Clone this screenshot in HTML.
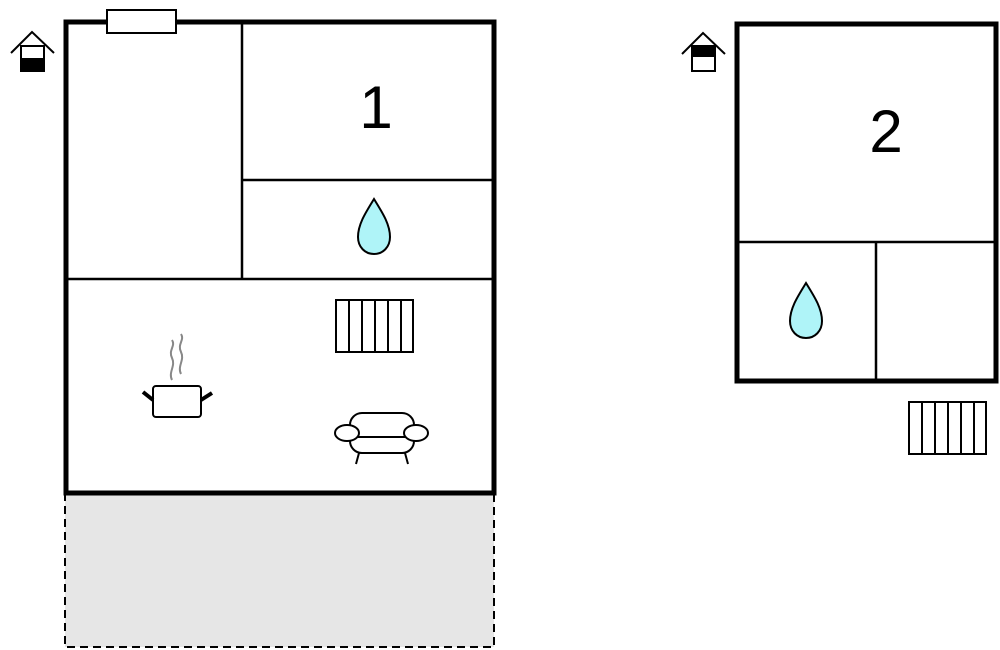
<!DOCTYPE html>
<html><head><style>html,body{margin:0;padding:0;background:#fff;}svg{display:block}</style></head>
<body>
<svg width="1000" height="650" viewBox="0 0 1000 650" xmlns="http://www.w3.org/2000/svg">
<rect x="65" y="494" width="429" height="153" fill="#e6e6e6" stroke="#000" stroke-width="2" stroke-dasharray="8,5"/>
<!-- left plan -->
<rect x="66" y="22" width="428" height="471" fill="#fff" stroke="#000" stroke-width="5"/>
<line x1="242" y1="22" x2="242" y2="279" stroke="#000" stroke-width="2.5"/>
<line x1="242" y1="180" x2="494" y2="180" stroke="#000" stroke-width="2.5"/>
<line x1="66" y1="279" x2="494" y2="279" stroke="#000" stroke-width="2.5"/>
<rect x="107" y="10" width="69" height="23" fill="#fff" stroke="#000" stroke-width="2"/>
<!-- house icon 1 -->
<polyline points="11,53 32,32 54,53" fill="none" stroke="#000" stroke-width="2"/>
<rect x="21" y="46" width="23" height="25" fill="#fff" stroke="#000" stroke-width="2"/>
<rect x="21" y="58" width="23" height="13" fill="#000"/>
<text x="376" y="128" font-family="Liberation Sans, sans-serif" font-size="60" text-anchor="middle">1</text>
<path d="M374,199 C366,212 358,224 358,237 C358,247 365,254 374,254 C383,254 390,247 390,237 C390,224 382,212 374,199 Z" fill="#aff4f8" stroke="#000" stroke-width="2"/>
<!-- radiator 1 -->
<g stroke="#000" stroke-width="2" fill="#fff">
<rect x="336" y="300" width="77" height="52"/>
<line x1="349" y1="300" x2="349" y2="352"/><line x1="362" y1="300" x2="362" y2="352"/><line x1="375" y1="300" x2="375" y2="352"/><line x1="388" y1="300" x2="388" y2="352"/><line x1="401" y1="300" x2="401" y2="352"/>
</g>
<!-- pot -->
<path d="M172,380 C168,372 176,366 172,358 C168,350 176,346 172,340 M181,374 C177,366 185,360 181,352 C177,344 185,340 181,334" fill="none" stroke="#888" stroke-width="2"/>
<rect x="153" y="386" width="48" height="31" rx="3" fill="#fff" stroke="#000" stroke-width="2"/>
<line x1="143" y1="392" x2="153" y2="400" stroke="#000" stroke-width="4"/>
<line x1="201" y1="400" x2="212" y2="393" stroke="#000" stroke-width="4"/>
<!-- sofa -->
<g fill="#fff" stroke="#000" stroke-width="2">
<rect x="350" y="413" width="64" height="40" rx="12"/>
<line x1="359" y1="453" x2="356" y2="464"/><line x1="405" y1="453" x2="408" y2="464"/>
<line x1="358" y1="437" x2="406" y2="437"/>
<ellipse cx="347" cy="433" rx="12" ry="8"/>
<ellipse cx="416" cy="433" rx="12" ry="8"/>
</g>
<!-- right plan -->
<rect x="737" y="24" width="259" height="357" fill="#fff" stroke="#000" stroke-width="5"/>
<line x1="737" y1="242" x2="996" y2="242" stroke="#000" stroke-width="2.5"/>
<line x1="876" y1="242" x2="876" y2="381" stroke="#000" stroke-width="2.5"/>
<polyline points="682,54 703,33 725,54" fill="none" stroke="#000" stroke-width="2"/>
<rect x="692" y="46" width="23" height="25" fill="#fff" stroke="#000" stroke-width="2"/>
<rect x="692" y="46" width="23" height="11" fill="#000"/>
<text x="886" y="152" font-family="Liberation Sans, sans-serif" font-size="60" text-anchor="middle">2</text>
<path d="M806,283 C798,296 790,308 790,321 C790,331 797,338 806,338 C815,338 822,331 822,321 C822,308 814,296 806,283 Z" fill="#aff4f8" stroke="#000" stroke-width="2"/>
<g stroke="#000" stroke-width="2" fill="#fff">
<rect x="909" y="402" width="77" height="52"/>
<line x1="922" y1="402" x2="922" y2="454"/><line x1="935" y1="402" x2="935" y2="454"/><line x1="948" y1="402" x2="948" y2="454"/><line x1="961" y1="402" x2="961" y2="454"/><line x1="974" y1="402" x2="974" y2="454"/>
</g>
</svg>
</body></html>
